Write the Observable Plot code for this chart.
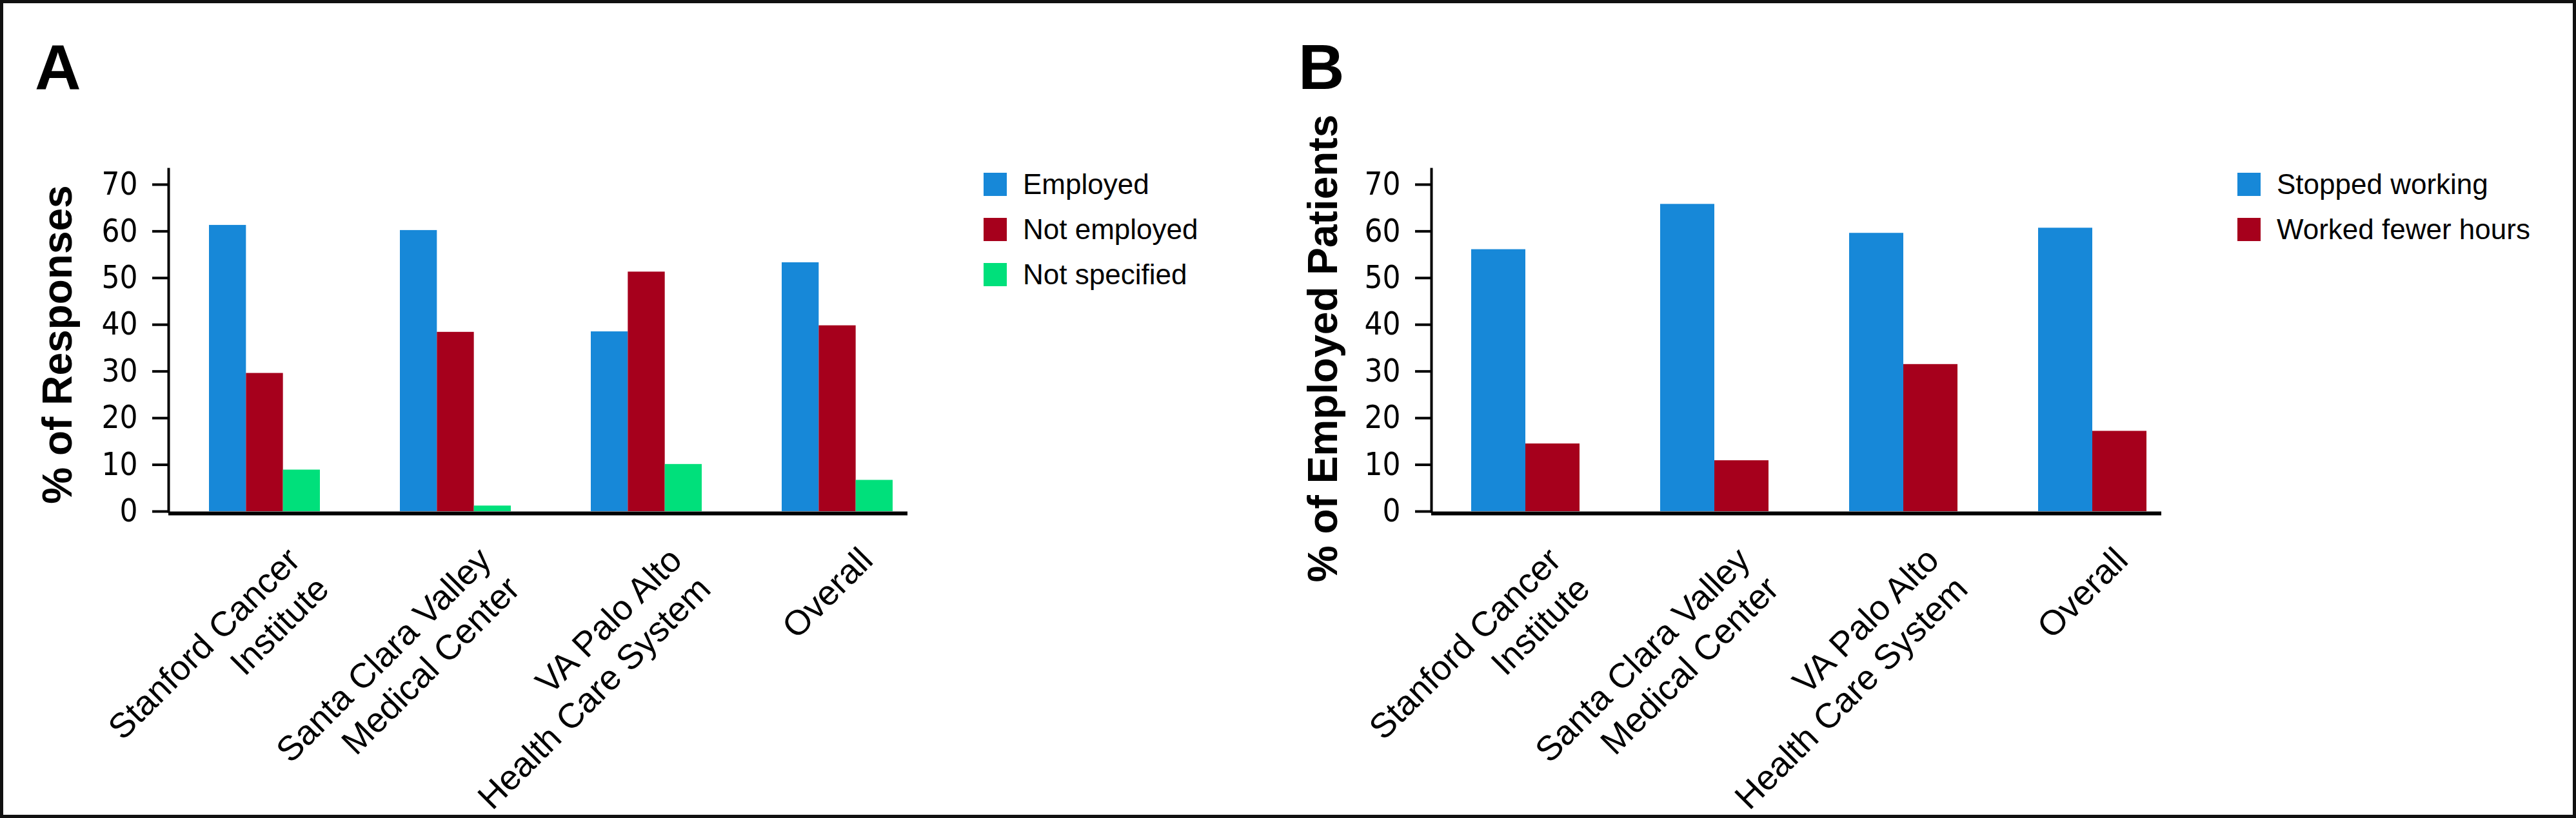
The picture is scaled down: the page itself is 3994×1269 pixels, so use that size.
<!DOCTYPE html>
<html><head><meta charset="utf-8">
<script src="https://cdn.jsdelivr.net/npm/d3@7"></script>
<script src="https://cdn.jsdelivr.net/npm/@observablehq/plot@0.6"></script>
<style>
html,body{margin:0;padding:0;background:#fff;}
#fig{position:relative;width:3994px;height:1269px;overflow:hidden;background:#fff;font-family:"Liberation Sans",Arial,Helvetica,sans-serif;color:#000;}
#border{position:absolute;left:0;top:0;width:3994px;height:1269px;box-sizing:border-box;border:5px solid #111;pointer-events:none;}
.panel{position:absolute;top:0;}
.letter{position:absolute;font-weight:bold;font-size:99px;line-height:1;}
.legend{position:absolute;font-size:44px;color:#000;}
.legend .item{display:flex;align-items:flex-start;height:36px;margin-bottom:34px;white-space:nowrap;}
.legend .sw{width:36px;height:36px;margin-right:25px;flex:none;}
.legend .lab{line-height:36px;}
#fig svg g[aria-label="y-axis tick label"]{font-family:"Liberation Sans Narrow","Arial Narrow","DejaVu Sans Condensed",sans-serif;}
</style></head><body>
<div id="fig"><div id="border"></div></div>
<script>
// ---- data ----
const sites = ["Stanford Cancer Institute", "Santa Clara Valley Medical Center", "VA Palo Alto Health Care System", "Overall"];
const siteLabels = ["Stanford Cancer\nInstitute", "Santa Clara Valley\nMedical Center", "VA Palo Alto\nHealth Care System", "Overall"];
const seriesA = ["Employed", "Not employed", "Not specified"];
const employed = [61.3, 60.2, 38.5, 53.3];
const notEmployed = [29.6, 38.4, 51.3, 39.8];
const notSpecified = [8.9, 1.2, 10.1, 6.7];
const seriesB = ["Stopped working", "Worked fewer hours"];
const stoppedWorking = [56.1, 65.8, 59.6, 60.7];
const workedFewerHours = [14.5, 10.9, 31.5, 17.2];
const yTicks = [0, 10, 20, 30, 40, 50, 60, 70];
const colorsA = ["#1788d8", "#a6001c", "#00e07b"];
const colorsB = ["#1788d8", "#a6001c"];
const yLabelA = "% of Responses";
const yLabelB = "% of Employed Patients";

const fig = document.getElementById("fig");

function makePanel(cfg) {
  const H = 1269, mt = 262, mb = H - 793;
  const n = sites.length, k = cfg.series.length;
  const frameW = cfg.width - cfg.ml - cfg.mr;
  const step = frameW / (n - cfg.pi + 2 * cfg.po);
  const bw = step * (1 - cfg.pi);
  const rows = cfg.series.flatMap((s, i) => sites.map((site, j) => ({site, series: s, value: cfg.values[i][j]})));
  const bars = cfg.series.map((s, i) => Plot.barY(rows.filter(r => r.series === s), {
    x: "site", y: "value", fill: "series",
    insetLeft: i * bw / k, insetRight: (k - 1 - i) * bw / k
  }));
  const svg = Plot.plot({
    width: cfg.width, height: H,
    marginLeft: cfg.ml, marginRight: cfg.mr, marginTop: mt, marginBottom: mb,
    style: {background: "none", overflow: "visible", fontFamily: "Liberation Sans, Arial, sans-serif", color: "#000"},
    x: {type: "band", domain: sites, paddingInner: cfg.pi, paddingOuter: cfg.po, align: cfg.align, axis: null},
    y: {domain: [0, 73.3], label: null},
    color: {domain: cfg.series, range: cfg.colors},
    marks: [
      ...bars,
      Plot.ruleY([0], {stroke: "#000", strokeWidth: 6, dy: 3}),
      Plot.frame({anchor: "left", stroke: "#000", strokeWidth: 4}),
      Plot.axisY(yTicks, {anchor: "left", label: null, tickSize: 25, tickPadding: 23, strokeWidth: 4, stroke: "#000",
        fontSize: 49, fill: "#000", tickFormat: d => String(d),
        fontFamily: "Liberation Sans Narrow, Arial Narrow, DejaVu Sans Condensed, sans-serif"}),
      Plot.text([cfg.yLabel], {frameAnchor: "left", rotate: -90, dx: cfg.tdx, dy: cfg.tdy,
        fontSize: 64, fontWeight: "bold", textAnchor: "middle", lineAnchor: "middle", fill: "#000"}),
      Plot.text(sites, {x: d => d, text: (d, i) => siteLabels[i], frameAnchor: "bottom", rotate: -45,
        textAnchor: "end", lineAnchor: "top", fontSize: 54, lineHeight: 1.17, dx: 26, dy: 47,
        fill: "#000", ariaLabel: "x-labels"})
    ]
  });
  const wrap = document.createElement("div");
  wrap.className = "panel";
  wrap.style.left = cfg.left + "px";
  wrap.appendChild(svg);
  fig.appendChild(wrap);
  // centre the lines of each multi-line category label on its longest line
  svg.querySelectorAll('g[aria-label="x-labels"] text').forEach(t => {
    const spans = Array.from(t.querySelectorAll("tspan"));
    if (spans.length < 2) return;
    const w = spans.map(s => s.getComputedTextLength());
    const W = Math.max(...w);
    spans.forEach((s, i) => s.setAttribute("x", -(W - w[i]) / 2));
  });
  // panel letter
  const L = document.createElement("div");
  L.className = "letter";
  L.textContent = cfg.letter;
  L.style.left = cfg.letterX + "px";
  L.style.top = "54px";
  fig.appendChild(L);
  // legend
  const leg = document.createElement("div");
  leg.className = "legend";
  leg.style.left = cfg.legX + "px";
  leg.style.top = "268px";
  cfg.series.forEach((s, i) => {
    const it = document.createElement("div");
    it.className = "item";
    const sw = document.createElement("div");
    sw.className = "sw";
    sw.style.background = cfg.colors[i];
    const lab = document.createElement("div");
    lab.className = "lab";
    lab.textContent = s;
    it.appendChild(sw); it.appendChild(lab);
    leg.appendChild(it);
  });
  fig.appendChild(leg);
}

makePanel({left: 0, width: 1460, ml: 261, mr: 53, pi: 0.4195, po: 0.1436, align: 0.73,
  series: seriesA, values: [employed, notEmployed, notSpecified], colors: colorsA,
  yLabel: yLabelA, tdx: -171, tdy: 6.5, letter: "A", letterX: 54, legX: 1525});
makePanel({left: 2000, width: 1400, ml: 219, mr: 49, pi: 0.4266, po: 0.145, align: 0.73,
  series: seriesB, values: [stoppedWorking, workedFewerHours], colors: colorsB,
  yLabel: yLabelB, tdx: -167, tdy: 12.5, letter: "B", letterX: 2013, legX: 3469});
fig.appendChild(document.getElementById("border"));
</script>
</body></html>
